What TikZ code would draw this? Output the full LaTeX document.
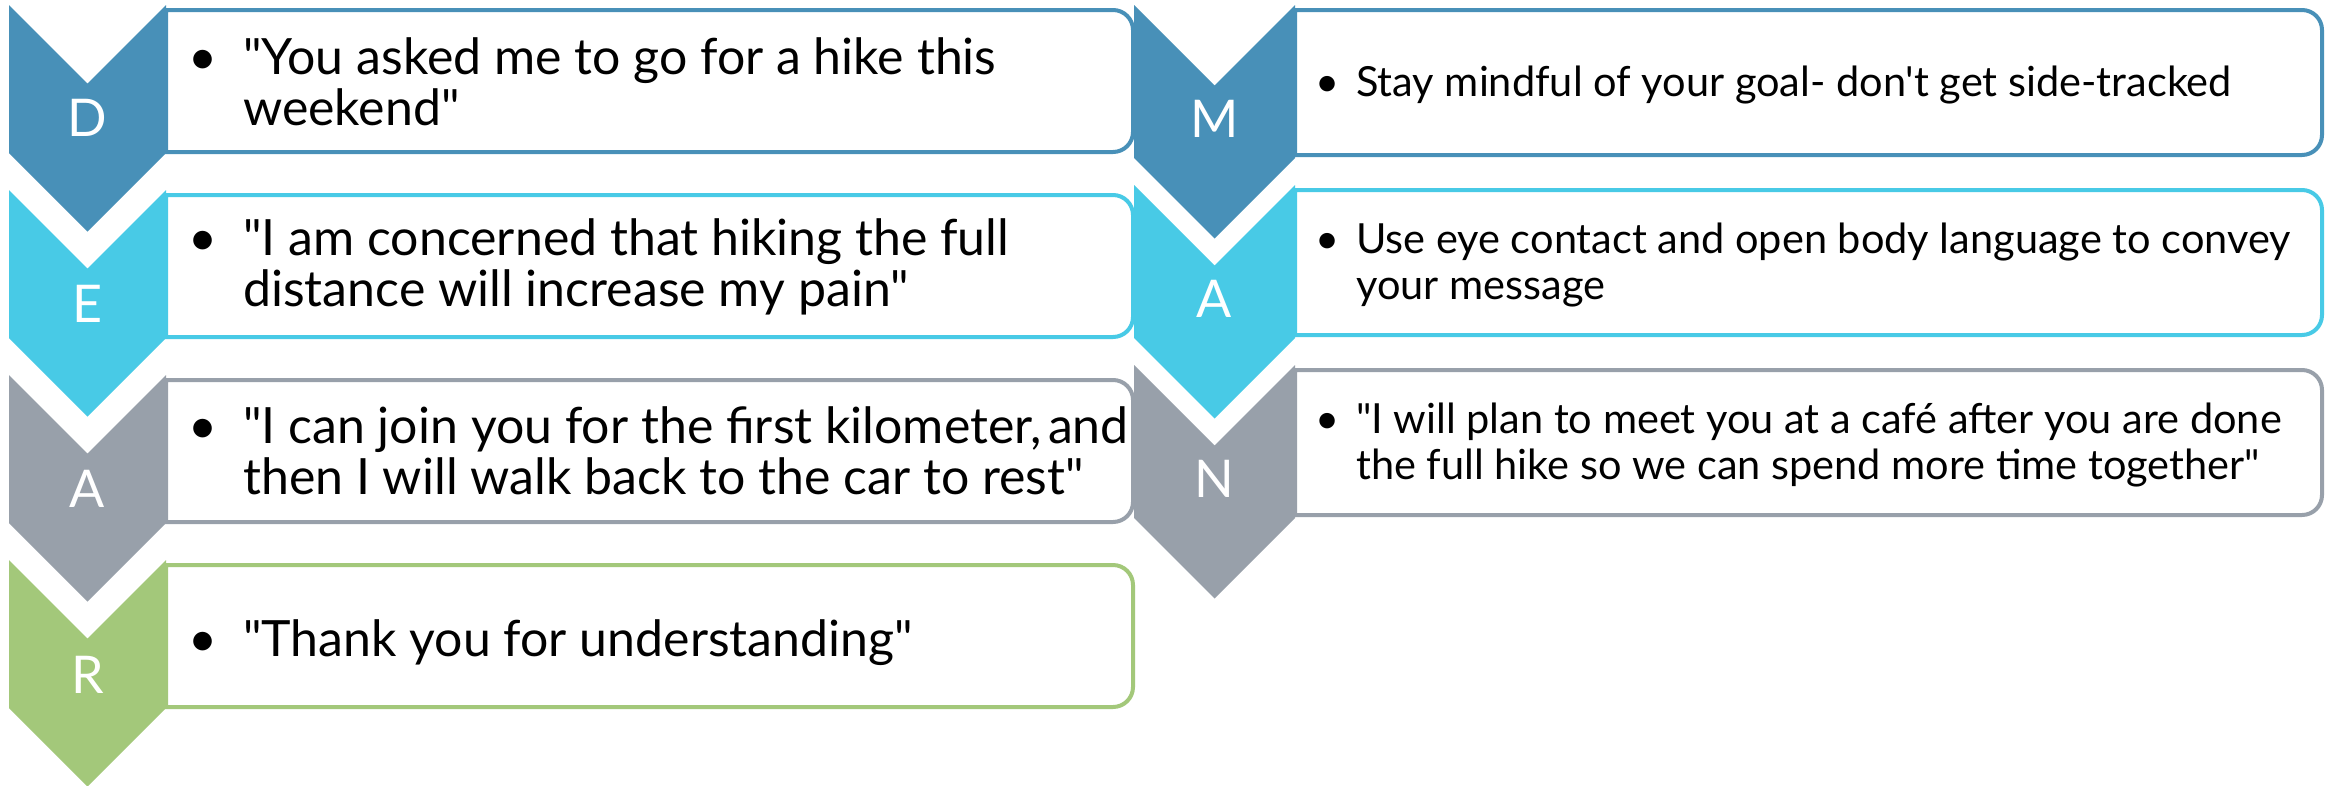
\documentclass[tikz,border=0pt]{standalone}
\usepackage{fontspec}
\setmainfont{Lato}
\newfontfamily\latof{Lato}
\definecolor{cD}{HTML}{4890B8}
\definecolor{cE}{HTML}{48CAE6}
\definecolor{cA}{HTML}{98A0AA}
\definecolor{cR}{HTML}{A3C87A}
\tikzset{
  chevshape/.style={fill=#1,draw=none},
  boxshape/.style={draw=#1,line width=4pt,fill=white},
  letter/.style={text=white,font=\latof\fontsize{52}{52}\selectfont,inner sep=0pt,anchor=center},
  ltext/.style={font=\latof\fontsize{50}{51}\selectfont,align=left,anchor=west,inner sep=0pt},
  rtext/.style={font=\latof\fontsize{41.5}{46}\selectfont,align=left,anchor=west,inner sep=0pt},
}
\newcommand\bulL{\llap{\makebox[80pt][c]{\textbullet}}}
\newcommand\bulR{\llap{\makebox[58pt][c]{\textbullet}}}
% #1 colour, #2 x0, #3 x1, #4 top, #5 bottom
\newcommand\rbox[5]{\draw[boxshape=#1] (#2,#4) -- ({#3-20},#4) arc[start angle=-90,end angle=0,radius=20] -- (#3,{#5-20}) arc[start angle=0,end angle=90,radius=20] -- (#2,#5) -- cycle;}
% #1 colour, #2 x0, #3 x1, #4 top, #5 depth, #6 rect height
\newcommand\chev[6]{\fill[chevshape=#1] (#2,#4) -- ({(#2+#3)/2},{#4+#5}) -- (#3,#4) -- (#3,{#4+#6}) -- ({(#2+#3)/2},{#4+#6+#5}) -- (#2,{#4+#6}) -- cycle;}
\begin{document}
\begin{tikzpicture}[x=1pt,y=-1pt]
\useasboundingbox[fill=white] (0,0) rectangle (2339,785);
% left column boxes
\rbox{cD}{166}{1133}{10}{152}
\rbox{cE}{166}{1133}{195}{337}
\rbox{cA}{166}{1133}{380}{522}
\rbox{cR}{166}{1133}{565}{707}
% right column boxes
\rbox{cD}{1295}{2322}{10}{155}
\rbox{cE}{1295}{2322}{190}{335}
\rbox{cA}{1295}{2322}{370}{515}
% left chevrons
\chev{cD}{9}{166}{5}{78.5}{148}
\chev{cE}{9}{166}{190}{78.5}{148}
\chev{cA}{9}{166}{375}{78.5}{148}
\chev{cR}{9}{166}{560}{78.5}{148}
% right chevrons
\chev{cD}{1134}{1295}{5}{80.5}{153}
\chev{cE}{1134}{1295}{185}{80.5}{153}
\chev{cA}{1134}{1295}{365}{80.5}{153}
% letters
\node[letter] (lD) at (87.5,118) {D};
\node[letter] (lE) at (87.5,304) {E};
\node[letter] (lA) at (87.5,489) {A};
\node[letter] (lR) at (87.5,675) {R};
\node[letter] (lM) at (1214.5,119) {M};
\node[letter] (lA2) at (1214.5,299) {A};
\node[letter] (lN) at (1214.5,479) {N};
% left texts
\node[ltext] (tD) at (243,82) {\bulL"You asked me to go for a hike this\\weekend"};
\node[ltext] (tE) at (243,267) {\bulL"I am concerned that hiking the full\\distance will increase my pain"};
\node[ltext] (tA) at (243,451) {\bulL"I can join you for the first kilometer,\kern6pt and\\then I will walk back to the car to rest"};
\node[ltext] (tR) at (243,643) {\bulL"Thank you for understanding"};
% right texts
\node[rtext] (tM) at (1356,85) {\bulR Stay mindful of your goal- don't get side-tracked};
\node[rtext] (tA2) at (1356,265) {\bulR Use eye contact and open body language to convey\\your message};
\node[rtext] (tN) at (1356,445) {\bulR"I will plan to meet you at a café after you are done\\the full hike so we can spend more time together"};
\end{tikzpicture}
\end{document}
